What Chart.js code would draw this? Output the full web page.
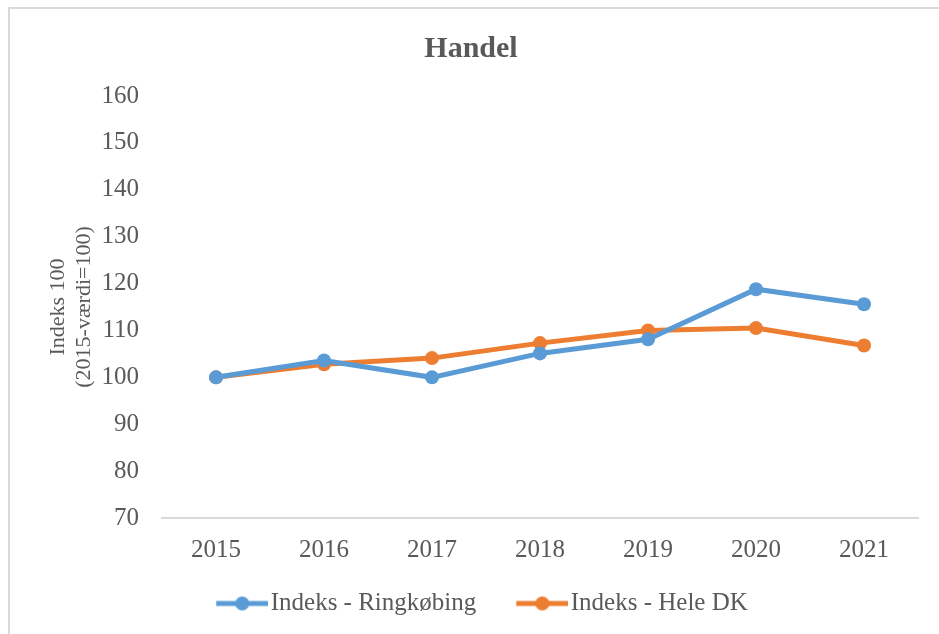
<!DOCTYPE html>
<html>
<head>
<meta charset="utf-8">
<script src="https://cdn.jsdelivr.net/npm/chart.js@4.4.1/dist/chart.umd.min.js"></script>
<style>
  html, body { margin: 0; padding: 0; background: #fff; }
  #wrap { position: relative; width: 939px; height: 634px; }
  #frame { position: absolute; left: 8px; top: 7px; right: 0; bottom: 0;
           border-left: 2px solid #d9d9d9; border-top: 2px solid #d9d9d9; }
  canvas { position: absolute; left: 0; top: 0; }
</style>
</head>
<body>
<div id="wrap">
  <div id="frame"></div>
  <canvas id="handel" width="939" height="634"></canvas>
</div>
<script>

	/* Handel - indeks 2015 = 100 */

	var years = ['2015', '2016', '2017', '2018', '2019', '2020', '2021'];
	var ringkobing = [100, 103.6, 100, 105.1, 108.1, 118.8, 115.6];
	var heleDK = [100, 102.8, 104.1, 107.3, 110.0, 110.5, 106.8];

	var blue = '#5B9BD5';
	var orange = '#ED7D31';
	var grey = '#595959';
	var serif = "'Liberation Serif', 'DejaVu Serif', serif";

	Chart.defaults.font.family = serif;
	Chart.defaults.color = grey;

	// legend marker: line with a dot in the middle, like Excel.
	// the image is wider than the legend box so the line runs up to the text
	function legendMarker(color) {
		var c = document.createElement('canvas');
		c.width = 84;
		c.height = 16;
		var ctx = c.getContext('2d');
		ctx.strokeStyle = color;
		ctx.lineWidth = 5;
		ctx.beginPath();
		ctx.moveTo(32, 8);
		ctx.lineTo(84, 8);
		ctx.stroke();
		ctx.fillStyle = color;
		ctx.beginPath();
		ctx.arc(58, 8, 7, 0, Math.PI * 2);
		ctx.fill();
		return c;
	}

	var markers = [legendMarker(blue), legendMarker(orange)];

	var handelChart = new Chart(document.getElementById('handel'), {
		type: 'line',
		data: {
			labels: years,
			datasets: [{
				label: 'Indeks - Ringkøbing',
				data: ringkobing,
				borderColor: blue,
				backgroundColor: blue,
				borderWidth: 5,
				pointRadius: 7,
				pointHoverRadius: 7,
				pointBorderWidth: 0
			}, {
				label: 'Indeks - Hele DK',
				data: heleDK,
				borderColor: orange,
				backgroundColor: orange,
				borderWidth: 5,
				pointRadius: 7,
				pointHoverRadius: 7,
				pointBorderWidth: 0
			}]
		},
		options: {
			responsive: false,
			animation: false,
			layout: {
				padding: { left: 24, right: 21, top: 0, bottom: 8 }
			},
			scales: {
				x: {
					offset: true,
					grid: { display: false },
					border: { display: true, color: '#d9d9d9', width: 2 },
					ticks: { font: { size: 25 }, padding: 9, color: grey },
					afterFit: function(scale) {
						scale.height = 55;
					}
				},
				y: {
					min: 70,
					max: 160,
					ticks: { stepSize: 10, font: { size: 25 }, padding: 15, color: grey },
					grid: { display: false },
					border: { display: false },
					title: {
						display: true,
						text: ['Indeks 100', '(2015-værdi=100)'],
						font: { size: 22, lineHeight: 1.15 },
						color: grey,
						padding: { top: 22, bottom: 0 }
					},
					afterFit: function(scale) {
						scale.width = 138;
					}
				}
			},
			plugins: {
				title: {
					display: true,
					text: 'Handel',
					font: { size: 30, weight: 'bold' },
					color: grey,
					padding: { top: 31, bottom: 29 }
				},
				legend: {
					position: 'bottom',
					labels: {
						usePointStyle: true,
						pointStyleWidth: 64,
						boxHeight: 16,
						font: { size: 25 },
						color: grey,
						padding: 18,
						generateLabels: function(chart) {
							return chart.data.datasets.map(function(ds, i) {
								return {
									text: ds.label,
									fillStyle: ds.borderColor,
									strokeStyle: ds.borderColor,
									fontColor: grey,
									lineWidth: 0,
									pointStyle: markers[i],
									datasetIndex: i
								};
							});
						}
					}
				},
				tooltip: { enabled: false }
			}
		}
	});

</script>
</body>
</html>
